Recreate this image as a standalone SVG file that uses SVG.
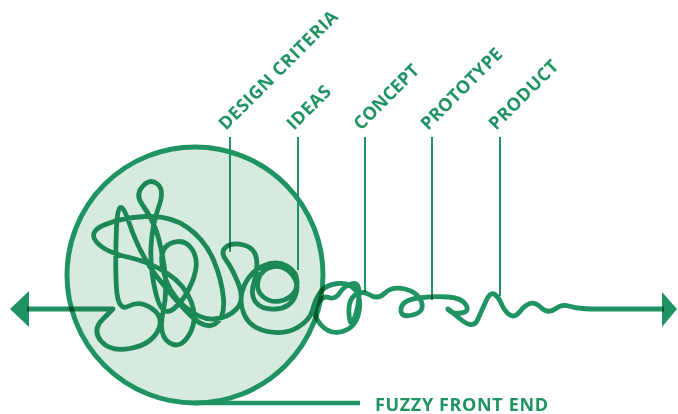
<svg xmlns="http://www.w3.org/2000/svg" width="678" height="414" viewBox="0 0 678 414">
<style>
.lbl{font-family:"Open Sans","Liberation Sans",sans-serif;font-weight:700;font-size:18px;fill:#1f9462}
.tick{stroke:#1f9462;stroke-width:2;fill:none}
.scrib{stroke:#1f9462;stroke-width:4.8;fill:none;stroke-linecap:butt;stroke-linejoin:round;mix-blend-mode:multiply}
.arrow{fill:#1f9462;mix-blend-mode:multiply}
</style>
<rect width="678" height="414" fill="#ffffff"/>
<g id="fuzzy-circle">
<circle cx="195" cy="275" r="128" fill="#d7eadf" stroke="#1f9462" stroke-width="5"/>
<line x1="195" y1="403" x2="360" y2="403" stroke="#1f9462" stroke-width="4.5"/>
<text class="lbl" x="375" y="410.5" textLength="173">FUZZY FRONT END</text>
</g>
<g id="connectors">
<line class="tick" x1="230" y1="137" x2="230" y2="252"/>
<line class="tick" x1="298" y1="137" x2="298" y2="270"/>
<line class="tick" x1="365" y1="137" x2="365" y2="292"/>
<line class="tick" x1="432" y1="137" x2="432" y2="300"/>
<line class="tick" x1="500" y1="137" x2="500" y2="296"/>
<polygon class="arrow" points="10,309 29,291 29,327"/>
<polygon class="arrow" points="677,309 662,292 662,327"/>
<path class="scrib" d="M27,309 L113,309 L102.5,319.5 Q92,330 101,341 Q110,352 130,348.5 Q150,345 157.5,331.5 Q165,318 152.5,309 Q140,300 129,306 Q118,312 116.5,288.5 Q115,265 116.5,227.5 Q118,190 129,222.5 Q140,255 157.5,277.5 Q175,300 190,315 Q205,330 215,324 Q225,318 223.5,299 Q222,280 213.5,260 Q205,240 187.5,227.5 Q170,215 145,216.5 Q120,218 104,225 Q88,232 96.5,242 Q105,252 127.5,257 Q150,262 167.5,273.5 Q185,285 191.5,302.5 Q198,320 189,335 Q180,350 169,342.5 Q158,335 163,312.5 Q168,290 164,265 Q160,240 155,227.5 Q150,215 142.5,205 Q135,195 142.5,186.5 Q150,178 157.5,184 Q165,190 158.5,207.5 Q152,225 151,247.5 Q150,270 156,294 Q162,318 173.5,309 Q185,300 192.5,281 Q200,262 192.5,250 Q185,238 171.5,243 Q158,248 163,270 Q168,292 184,306 Q200,320 214,319 Q228,318 236.5,309 Q245,300 238.5,284 Q232,268 226,260 Q220,252 226,247 Q232,242 243.5,245 Q255,248 256.5,259 Q258,270 254,282.5 Q250,295 256,302.5 Q262,310 276,309 Q290,308 295,296.5 Q300,285 292.5,275 Q285,265 273.5,266.5 Q262,268 258.5,279 Q255,290 263.5,297 Q272,304 284,300 Q296,296 297,284 Q298,272 287,266 Q276,260 263,266 Q250,272 244,286 Q238,300 244,314 Q250,328 267.5,331.5 Q285,335 297.5,327.5 Q310,320 312.5,310 Q315,300 320,292.5 Q325,285 337.5,283.5 Q350,282 356,291 Q362,300 358.5,314 Q355,328 342.5,331.5 Q330,335 321,325 Q312,315 317,305 Q322,295 328.5,297.5 Q335,300 340,292.5 Q345,285 352.5,283.5 Q360,282 359,296 Q358,310 354,319 Q350,328 349,314 Q348,300 355,295 Q362,290 370,295 Q378,300 385,293 Q392,286 405,289 Q418,292 421.5,302 Q425,312 412.5,315 Q400,318 401,309 Q402,300 418.5,298 Q435,296 448.5,297 Q462,298 466,305 Q470,312 461,313 Q452,314 448.5,310 Q445,306 459,318 Q473,330 477.5,320 Q482,310 486,301 Q490,292 494,294 Q498,296 501.5,304 Q505,312 510,315 Q515,318 520,311.5 Q525,305 530,303.5 Q535,302 541.5,308 Q548,314 555,309 Q562,304 568.5,306 Q575,308 582.5,308.5 L590,309 L664,309"/>
</g>
<g id="label-design-criteria"><text class="lbl" transform="translate(226,131) rotate(-45)" textLength="160">DESIGN CRITERIA</text></g>
<g id="label-ideas"><text class="lbl" transform="translate(294,131) rotate(-45)" textLength="54">IDEAS</text></g>
<g id="label-concept"><text class="lbl" transform="translate(361,131) rotate(-45)" textLength="84">CONCEPT</text></g>
<g id="label-prototype"><text class="lbl" transform="translate(428,131) rotate(-45)" textLength="107">PROTOTYPE</text></g>
<g id="label-product"><text class="lbl" transform="translate(496,131) rotate(-45)" textLength="90">PRODUCT</text></g>
</svg>
